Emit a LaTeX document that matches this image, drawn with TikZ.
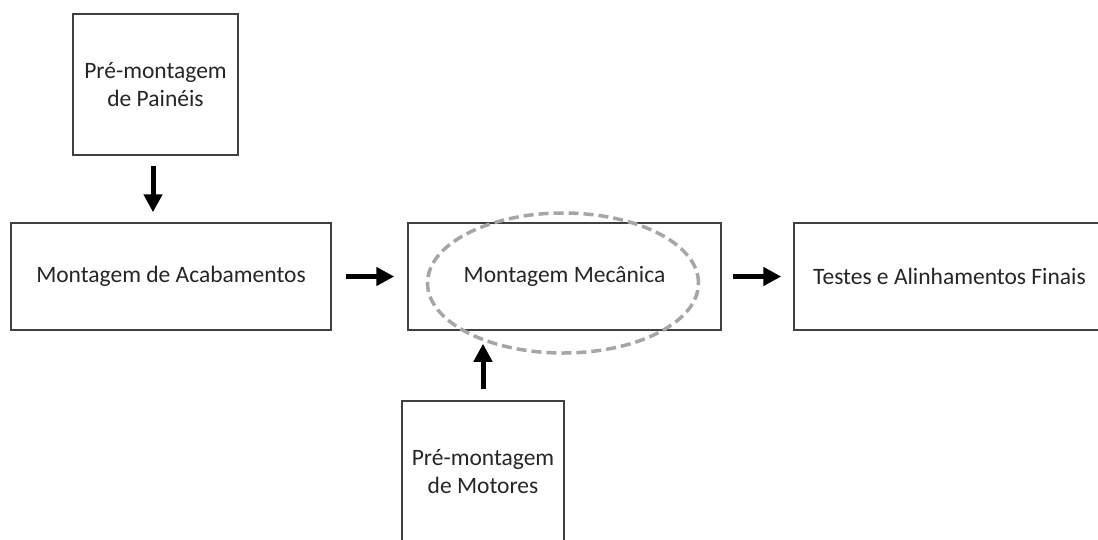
\documentclass[tikz,border=0pt]{standalone}
\usepackage{fontspec}
\setmainfont{Carlito}
\usetikzlibrary{arrows.meta,shapes.geometric}
\definecolor{boxline}{HTML}{404040}
\definecolor{txt}{HTML}{262626}
\definecolor{ellgray}{HTML}{A6A6A6}
\tikzset{
  box/.style={draw=boxline, line width=1.5pt, rectangle, inner sep=0pt, align=center,
    text=txt, font=\fontsize{23.5}{28}\selectfont},
  arr/.style={line width=5pt, -{Triangle[length=18pt,width=18pt]}, black},
  ell/.style={draw=ellgray, line width=3.5pt, dash pattern=on 10pt off 5pt, ellipse, inner sep=0pt}
}
\begin{document}
\begin{tikzpicture}[x=1pt,y=-1pt]
\useasboundingbox (0,0) rectangle (1098,539);
\clip (0,0) rectangle (1098,539);
\node[box, minimum width=165pt, minimum height=141pt] (pp) at (155.5,84.5) {Pré-montagem\\de Painéis};
\node[box, minimum width=320pt, minimum height=107pt] (ma) at (171,276.5) {Montagem de Acabamentos};
\node[box, minimum width=313pt, minimum height=107pt] (mm) at (564.5,276.5) {Montagem Mecânica};
\node[box, minimum width=311pt, minimum height=107pt] (tf) at (949.5,276.5) {Testes e Alinhamentos Finais};
\node[box, minimum width=162pt, minimum height=142pt] (pm) at (483,472) {Pré-montagem\\de Motores};
\node[ell, minimum width=271pt, minimum height=140pt] (el) at (563,283) {};
\draw[arr, shorten <=10pt, shorten >=10pt] ([xshift=-2.5pt]pp.south) -- ([xshift=-2.5pt]pp.south |- ma.north);
\draw[arr, shorten <=14pt, shorten >=13pt] (ma.east) -- (mm.west);
\draw[arr, shorten <=11pt, shorten >=12pt] (mm.east) -- (tf.west);
\draw[arr, shorten <=11pt, shorten >=13pt] (pm.north) -- (pm.north |- mm.south);
\end{tikzpicture}
\end{document}
